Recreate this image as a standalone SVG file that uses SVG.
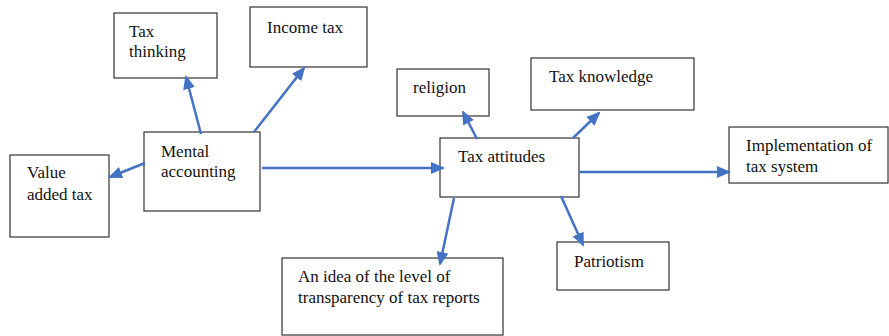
<svg xmlns="http://www.w3.org/2000/svg" width="889" height="336" viewBox="0 0 889 336">
<style>
.box{fill:#fff;stroke:#333;stroke-width:1.2}
.t{font-family:"Liberation Serif","Times New Roman",serif;font-size:17px;fill:#111}
.c{stroke:#4472C4;stroke-width:2.5;fill:none;marker-end:url(#ah)}
</style>
<defs>
<marker id="ah" markerUnits="userSpaceOnUse" markerWidth="14" markerHeight="12" viewBox="0 0 14 12" refX="12" refY="6" orient="auto">
<path d="M0,0 L14,6 L0,12 z" fill="#4472C4"/>
</marker>
</defs>
<rect width="889" height="336" fill="#fff"/>
<g id="tax-thinking"><rect class="box" x="114" y="13" width="103" height="65"/><text class="t" x="129" y="37">Tax</text><text class="t" x="129" y="57">thinking</text></g>
<g id="income-tax"><rect class="box" x="250" y="7" width="117" height="60"/><text class="t" x="267" y="33">Income tax</text></g>
<g id="mental-accounting"><rect class="box" x="144" y="132" width="116" height="79"/><text class="t" x="161" y="157">Mental</text><text class="t" x="161" y="177">accounting</text></g>
<g id="value-added-tax"><rect class="box" x="10" y="155" width="99" height="82"/><text class="t" x="27" y="178">Value</text><text class="t" x="27" y="200">added tax</text></g>
<g id="tax-attitudes"><rect class="box" x="440" y="138" width="139" height="59"/><text class="t" x="458" y="162">Tax attitudes</text></g>
<g id="religion"><rect class="box" x="397" y="69" width="92" height="47"/><text class="t" x="413" y="93">religion</text></g>
<g id="tax-knowledge"><rect class="box" x="531" y="58" width="163" height="52"/><text class="t" x="549" y="82">Tax knowledge</text></g>
<g id="implementation"><rect class="box" x="729" y="127" width="159" height="56"/><text class="t" x="746" y="151">Implementation of</text><text class="t" x="746" y="172">tax system</text></g>
<g id="patriotism"><rect class="box" x="557" y="242" width="112" height="48"/><text class="t" x="574" y="267">Patriotism</text></g>
<g id="transparency"><rect class="box" x="282" y="258" width="221" height="77"/><text class="t" x="298" y="282">An idea of the level of</text><text class="t" x="298" y="303">transparency of tax reports</text></g>
<g id="connectors">
<line class="c" x1="201" y1="134" x2="186" y2="77"/>
<line class="c" x1="254" y1="132" x2="304" y2="68"/>
<line class="c" x1="145" y1="163" x2="110" y2="177"/>
<line class="c" x1="262" y1="168" x2="443" y2="168"/>
<line class="c" x1="477" y1="139" x2="463" y2="112"/>
<line class="c" x1="573" y1="138" x2="599" y2="113"/>
<line class="c" x1="579" y1="172" x2="729" y2="172"/>
<line class="c" x1="561" y1="196" x2="583" y2="245"/>
<line class="c" x1="454" y1="198" x2="440" y2="264"/>
</g>
</svg>
